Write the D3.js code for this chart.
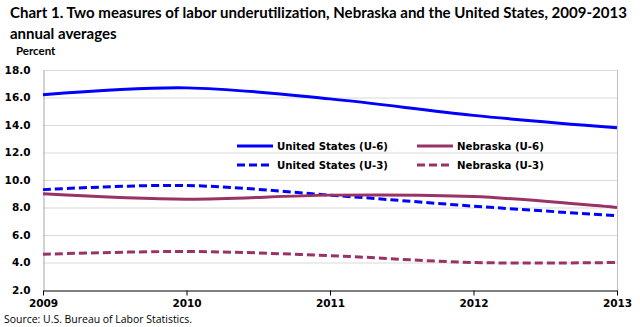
<!DOCTYPE html>
<html>
<head>
<meta charset="utf-8">
<script src="https://cdn.jsdelivr.net/npm/d3@7"></script>
<style>
  body { margin: 0; background: #fff; }
  svg { display: block; }
</style>
</head>
<body>
<div id="chart"></div>
<script>
const years = [2009, 2010, 2011, 2012, 2013];
const usU6 = [16.2, 16.7, 15.9, 14.7, 13.8];
const nebU6 = [9.0, 8.6, 8.9, 8.8, 8.0];
const usU3 = [9.3, 9.6, 8.9, 8.1, 7.4];
const nebU3 = [4.6, 4.8, 4.5, 4.0, 4.0];
const yTicks = [2, 4, 6, 8, 10, 12, 14, 16, 18];

const seriesList = [
  { name: "United States (U-6)", values: usU6, color: "#0000ff", dash: null },
  { name: "Nebraska (U-6)", values: nebU6, color: "#993366", dash: null },
  { name: "United States (U-3)", values: usU3, color: "#0000ff", dash: "8,4" },
  { name: "Nebraska (U-3)", values: nebU3, color: "#993366", dash: "8,4" }
];

function drawChart() {
  const container = d3.select("#chart");
  container.selectAll("*").remove();

  const width = 640, height = 327;
  const margin = { top: 70, right: 23, bottom: 37, left: 43 };

  const svg = container.append("svg")
    .attr("width", width)
    .attr("height", height);

  const x = d3.scalePoint()
    .domain(years)
    .range([margin.left, width - margin.right]);

  const y = d3.scaleLinear()
    .domain([2, 18])
    .range([height - margin.bottom, margin.top]);

  // title
  const title = svg.append("text")
    .attr("font-family", "Lato, 'Open Sans', sans-serif")
    .attr("font-weight", "bold")
    .attr("font-size", 15)
    .attr("fill", "#000");
  title.append("tspan").attr("x", 10).attr("y", 18)
    .attr("textLength", 617)
    .attr("lengthAdjust", "spacingAndGlyphs")
    .text("Chart 1. Two measures of labor underutilization, Nebraska and the United States, 2009-2013");
  title.append("tspan").attr("x", 10).attr("y", 39)
    .text("annual averages");

  svg.append("text")
    .attr("x", 16)
    .attr("y", 55)
    .attr("font-family", "Lato, sans-serif")
    .attr("font-weight", "bold")
    .attr("font-size", 11.5)
    .text("Percent");

  // gridlines
  svg.append("g")
    .selectAll("line")
    .data(yTicks.filter(d => d > 2))
    .enter()
    .append("line")
    .attr("x1", margin.left)
    .attr("x2", width - margin.right)
    .attr("y1", d => y(d) + 0.5)
    .attr("y2", d => y(d) + 0.5)
    .attr("stroke", "#d9d9d9")
    .attr("stroke-width", 1);

  // right border
  svg.append("line")
    .attr("x1", width - margin.right + 0.5)
    .attr("x2", width - margin.right + 0.5)
    .attr("y1", margin.top)
    .attr("y2", height - margin.bottom)
    .attr("stroke", "#bfbfbf");

  // y axis
  const yAxis = svg.append("g")
    .attr("transform", `translate(${margin.left + 0.5},0)`)
    .call(d3.axisLeft(y).tickValues(yTicks).tickFormat(d3.format(".1f")).tickSize(0).tickPadding(13));
  yAxis.select(".domain").attr("stroke", "#a6a6a6");
  yAxis.selectAll("text")
    .attr("font-family", "'DejaVu Sans', Verdana, sans-serif")
    .attr("font-weight", "bold")
    .attr("font-size", 10.5)
    .attr("fill", "#000");

  // x axis
  const xAxis = svg.append("g")
    .attr("transform", `translate(0,${height - margin.bottom + 0.5})`)
    .call(d3.axisBottom(x).tickSize(5).tickSizeOuter(0).tickPadding(4));
  xAxis.select(".domain").attr("stroke", "#000");
  xAxis.selectAll("line").attr("stroke", "#000");
  xAxis.selectAll("text")
    .attr("font-family", "'DejaVu Sans', Verdana, sans-serif")
    .attr("font-weight", "bold")
    .attr("font-size", 10.5)
    .attr("fill", "#000");

  // lines
  const line = d3.line()
    .x((d, i) => x(years[i]))
    .y(d => y(d))
    .curve(d3.curveCatmullRom.alpha(0.5));

  svg.append("g")
    .selectAll("path")
    .data(seriesList.slice().reverse())
    .enter()
    .append("path")
    .attr("d", d => line(d.values))
    .attr("fill", "none")
    .attr("stroke", d => d.color)
    .attr("stroke-width", 3)
    .attr("stroke-dasharray", d => d.dash);

  // legend
  const legend = svg.append("g")
    .selectAll("g")
    .data(seriesList)
    .enter()
    .append("g")
    .attr("transform", (d, i) => `translate(${i % 2 === 0 ? 237 : 417},${i < 2 ? 146 : 165})`);

  legend.append("line")
    .attr("x1", 0)
    .attr("x2", 36)
    .attr("stroke", d => d.color)
    .attr("stroke-width", 3)
    .attr("stroke-dasharray", d => d.dash);

  legend.append("text")
    .attr("x", 40)
    .attr("dy", "0.35em")
    .attr("font-family", "'DejaVu Sans', Verdana, sans-serif")
    .attr("font-weight", "bold")
    .attr("font-size", 10.2)
    .text(d => d.name);

  svg.append("text")
    .attr("x", 4)
    .attr("y", 323)
    .attr("font-family", "'Open Sans', sans-serif")
    .attr("font-size", 10.4)
    .attr("textLength", 188)
    .attr("lengthAdjust", "spacingAndGlyphs")
    .text("Source: U.S. Bureau of Labor Statistics.");
}

drawChart();
</script>
</body>
</html>
